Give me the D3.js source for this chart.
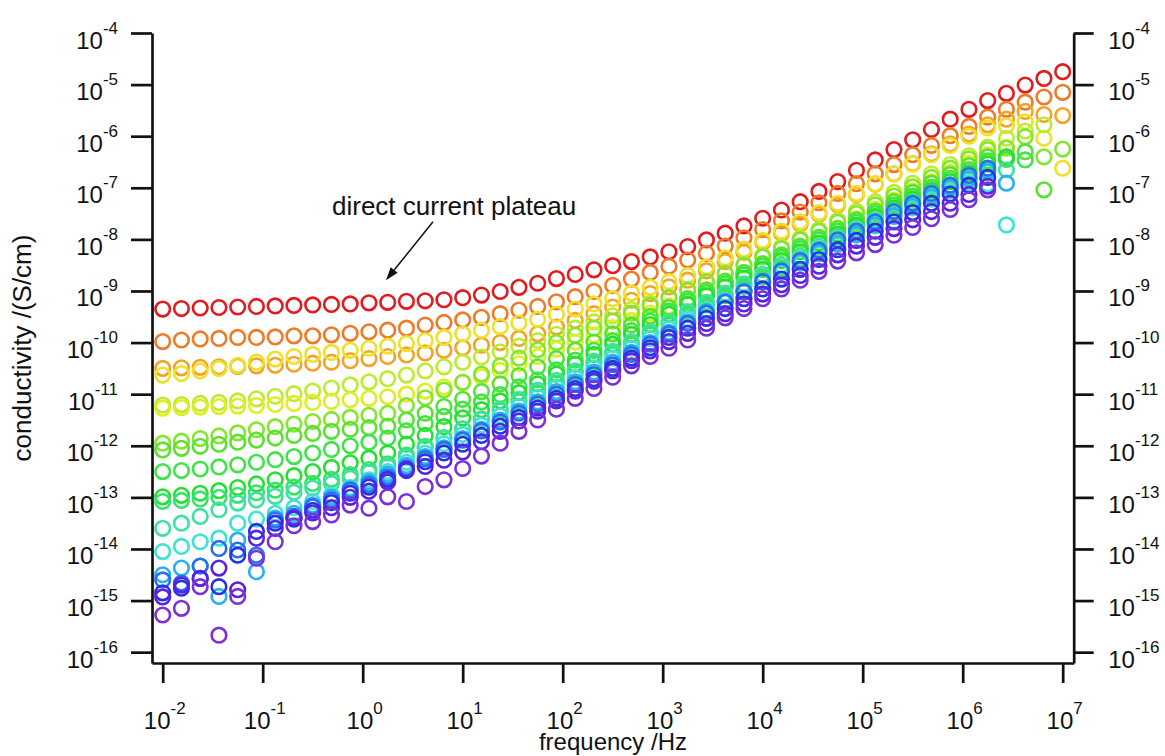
<!DOCTYPE html>
<html>
<head>
<meta charset="utf-8">
<script src="https://cdn.jsdelivr.net/npm/d3@7"></script>
<style>
  html, body { margin: 0; padding: 0; background: #fff; }
  svg { display: block; font-family: "Liberation Sans", Arial, Helvetica, sans-serif; }
</style>
</head>
<body>
<svg id="chart" width="1165" height="756"></svg>
<script>
// Measurement frequencies (Hz), shared by every spectrum
const frequencies = [
  0.01, 0.0154, 0.02371, 0.03652, 0.05623, 0.0866, 0.1334, 0.2054, 0.3162, 0.487,
  0.7499, 1.155, 1.778, 2.738, 4.217, 6.494, 10, 15.4, 23.71, 36.52,
  56.23, 86.6, 133.4, 205.4, 316.2, 487, 749.9, 1155, 1778, 2738,
  4217, 6494, 1.0e4, 1.54e4, 2.371e4, 3.652e4, 5.623e4, 8.66e4, 1.334e5, 2.054e5,
  3.162e5, 4.87e5, 7.499e5, 1.155e6, 1.778e6, 2.738e6, 4.217e6, 6.494e6, 1.0e7
];

// log10 of the real conductivity (S/cm), one spectrum per temperature
const redTrace = [-9.35,-9.34,-9.33,-9.32,-9.31,-9.30,-9.29,-9.28,-9.27,-9.26,-9.25,-9.23,-9.22,
  -9.20,-9.19,-9.17,-9.13,-9.08,-9.01,-8.93,-8.85,-8.76,-8.68,-8.59,-8.51,-8.43,-8.34,-8.24,-8.14,
  -8.01,-7.88,-7.74,-7.59,-7.43,-7.27,-7.07,-6.88,-6.66,-6.46,-6.26,-6.07,-5.87,-5.67,-5.48,-5.31,-5.17,-5.01,-4.88,-4.75];
const orangeTrace = [-9.98,-9.95,-9.93,-9.92,-9.90,-9.90,-9.89,-9.87,-9.87,-9.85,-9.82,-9.79,-9.76,
  -9.72,-9.66,-9.61,-9.56,-9.51,-9.44,-9.37,-9.30,-9.21,-9.11,-9.01,-8.89,-8.77,-8.64,-8.52,-8.40,
  -8.27,-8.13,-7.97,-7.81,-7.64,-7.47,-7.29,-7.11,-6.92,-6.73,-6.55,-6.36,-6.18,-5.99,-5.81,-5.63,-5.48,-5.34,-5.24,-5.15];
const amberTrace = [-10.50,-10.49,-10.48,-10.47,-10.46,-10.45,-10.44,-10.42,-10.40,-10.38,-10.35,-10.31,-10.27,
  -10.24,-10.20,-10.15,-10.10,-10.05,-10.00,-9.92,-9.83,-9.70,-9.57,-9.44,-9.31,-9.18,-9.05,-8.92,-8.79,
  -8.61,-8.43,-8.25,-8.06,-7.88,-7.70,-7.51,-7.33,-7.13,-6.93,-6.73,-6.53,-6.34,-6.15,-5.96,-5.78,-5.67,-5.52,-5.58,-5.60];
const yellowTrace = [-10.63,-10.60,-10.55,-10.50,-10.44,-10.38,-10.32,-10.27,-10.23,-10.19,-10.15,-10.11,-10.07,
  -10.02,-9.96,-9.90,-9.83,-9.76,-9.69,-9.62,-9.55,-9.45,-9.35,-9.25,-9.15,-9.04,-8.93,-8.82,-8.70,
  -8.53,-8.36,-8.19,-8.02,-7.84,-7.66,-7.48,-7.30,-7.11,-6.92,-6.73,-6.54,-6.36,-6.18,-6.00,-5.84,-5.80,-5.72,-6.04,-6.62];
const yellowGreenTrace = [-11.21,-11.20,-11.18,-11.16,-11.13,-11.09,-11.04,-10.99,-10.94,-10.88,-10.82,-10.76,-10.70,
  -10.63,-10.55,-10.47,-10.38,-10.28,-10.18,-10.07,-9.96,-9.84,-9.72,-9.60,-9.48,-9.36,-9.24,-9.12,-9.00,
  -8.83,-8.66,-8.49,-8.32,-8.15,-7.98,-7.81,-7.63,-7.45,-7.27,-7.09,-6.91,-6.73,-6.55,-6.38,-6.21,-6.04,-5.90,-5.78];
const limeTrace = [-11.27,-11.26,-11.25,-11.24,-11.23,-11.22,-11.20,-11.18,-11.16,-11.14,-11.11,-11.08,-11.05,
  -11.00,-10.94,-10.86,-10.77,-10.66,-10.54,-10.41,-10.27,-10.13,-9.99,-9.85,-9.71,-9.57,-9.43,-9.29,-9.15,
  -8.99,-8.82,-8.65,-8.48,-8.31,-8.14,-7.96,-7.78,-7.60,-7.42,-7.24,-7.06,-6.88,-6.70,-6.52,-6.36,-6.22];
const chartreuseTrace = [-11.95,-11.91,-11.86,-11.81,-11.75,-11.69,-11.63,-11.58,-11.53,-11.49,-11.45,-11.41,-11.37,
  -11.22,-11.07,-10.92,-10.77,-10.61,-10.45,-10.30,-10.14,-10.00,-9.86,-9.72,-9.58,-9.43,-9.28,-9.13,-8.98,
  -8.82,-8.66,-8.50,-8.34,-8.18,-8.01,-7.84,-7.67,-7.50,-7.33,-7.16,-6.98,-6.80,-6.62,-6.44,-6.26,-6.23,-6.01,-6.40,-6.25];
const greenTrace = [-12.08,-12.05,-12.01,-11.97,-11.93,-11.89,-11.85,-11.80,-11.76,-11.72,-11.68,-11.65,-11.62,
  -11.50,-11.37,-11.24,-11.10,-10.95,-10.80,-10.64,-10.47,-10.31,-10.15,-9.99,-9.83,-9.66,-9.49,-9.32,-9.15,
  -8.98,-8.81,-8.64,-8.47,-8.30,-8.13,-7.96,-7.79,-7.62,-7.45,-7.27,-7.09,-6.91,-6.74,-6.57,-6.40,-6.40,-6.30,-7.04];
const leafTrace = [-12.50,-12.48,-12.45,-12.41,-12.37,-12.32,-12.27,-12.21,-12.14,-12.07,-12.00,-11.93,-11.85,
  -11.71,-11.57,-11.43,-11.29,-11.15,-11.01,-10.86,-10.72,-10.53,-10.34,-10.15,-9.96,-9.77,-9.58,-9.39,-9.20,
  -9.03,-8.86,-8.69,-8.52,-8.35,-8.18,-8.01,-7.84,-7.67,-7.50,-7.33,-7.16,-6.99,-6.82,-6.65,-6.48,-6.45,-6.46];
const emeraldTrace = [-12.99,-12.96,-12.92,-12.87,-12.81,-12.74,-12.66,-12.58,-12.50,-12.42,-12.33,-12.24,-12.14,
  -11.97,-11.80,-11.63,-11.46,-11.30,-11.13,-10.97,-10.80,-10.61,-10.42,-10.23,-10.03,-9.84,-9.65,-9.45,-9.26,
  -9.09,-8.92,-8.75,-8.58,-8.41,-8.24,-8.07,-7.90,-7.73,-7.56,-7.39,-7.22,-7.05,-6.88,-6.71,-6.54,-6.40];
const springTrace = [-13.08,-13.06,-13.03,-13.00,-12.96,-12.91,-12.86,-12.80,-12.73,-12.65,-12.56,-12.46,-12.35,
  -12.18,-12.01,-11.84,-11.67,-11.49,-11.32,-11.14,-10.97,-10.78,-10.59,-10.40,-10.21,-10.02,-9.83,-9.64,-9.45,
  -9.27,-9.09,-8.91,-8.73,-8.55,-8.37,-8.19,-8.01,-7.84,-7.67,-7.50,-7.33,-7.16,-6.99,-6.82,-6.66];
const seaGreenTrace = [-13.60,-13.50,-13.37,-13.24,-13.11,-13.05,-12.98,-12.90,-12.82,-12.73,-12.63,-12.52,-12.40,
  -12.22,-12.04,-11.86,-11.67,-11.48,-11.29,-11.10,-10.92,-10.73,-10.55,-10.36,-10.17,-9.98,-9.79,-9.60,-9.40,
  -9.22,-9.04,-8.86,-8.68,-8.50,-8.32,-8.14,-7.96,-7.79,-7.62,-7.45,-7.28,-7.11,-6.95,-6.80,-6.70,-6.65];
const turquoiseTrace = [-14.05,-13.95,-13.86,-13.79,-13.50,-13.42,-13.31,-13.20,-13.08,-12.95,-12.81,-12.66,-12.50,
  -12.32,-12.14,-11.96,-11.78,-11.60,-11.42,-11.24,-11.06,-10.87,-10.68,-10.49,-10.30,-10.11,-9.92,-9.73,-9.54,
  -9.36,-9.18,-9.00,-8.82,-8.64,-8.46,-8.28,-8.10,-7.92,-7.74,-7.56,-7.39,-7.22,-7.06,-6.90,-6.92,-7.72];
const azureTrace = [-14.50,-14.37,-14.33,-14.92,-13.83,-14.44,-13.40,-13.31,-13.15,-13.00,-12.84,-12.70,-12.55,
  -12.38,-12.21,-12.04,-11.86,-11.68,-11.50,-11.33,-11.15,-10.95,-10.76,-10.57,-10.38,-10.19,-10.00,-9.80,-9.60,
  -9.40,-9.20,-9.00,-8.81,-8.62,-8.44,-8.26,-8.08,-7.90,-7.72,-7.54,-7.36,-7.18,-7.00,-6.83,-6.68,-6.91];
const blueTrace = [-14.60,-14.66,-14.33,-13.99,-14.02,-14.12,-13.44,-13.37,-13.18,-13.05,-12.86,-12.75,-12.60,
  -12.43,-12.25,-12.07,-11.89,-11.71,-11.54,-11.37,-11.19,-11.00,-10.81,-10.62,-10.43,-10.23,-10.03,-9.83,-9.63,
  -9.43,-9.22,-9.02,-8.82,-8.61,-8.41,-8.21,-8.01,-7.84,-7.66,-7.46,-7.30,-7.11,-6.95,-6.76,-6.62];
const deepBlueTrace = [-14.85,-14.76,-14.57,-14.73,-14.12,-13.66,-13.50,-13.42,-13.25,-13.10,-12.92,-12.80,-12.65,
  -12.48,-12.31,-12.14,-11.97,-11.80,-11.62,-11.45,-11.27,-11.08,-10.89,-10.70,-10.50,-10.30,-10.10,-9.90,-9.72,
  -9.53,-9.34,-9.15,-8.96,-8.77,-8.58,-8.39,-8.20,-8.02,-7.84,-7.66,-7.48,-7.30,-7.12,-6.95,-6.80];
const indigoTrace = [-14.93,-14.70,-14.57,-14.37,-14.79,-13.79,-13.60,-13.40,-13.30,-13.20,-13.00,-12.88,-12.70,
  -12.45,-12.40,-12.28,-12.12,-11.92,-11.72,-11.52,-11.33,-11.13,-10.94,-10.75,-10.55,-10.35,-10.16,-9.98,-9.82,
  -9.63,-9.44,-9.25,-9.06,-8.88,-8.70,-8.52,-8.30,-8.13,-7.96,-7.79,-7.62,-7.46,-7.30,-7.13,-6.97];
const violetTrace = [-15.28,-15.15,-14.73,-15.67,-14.92,-14.18,-13.86,-13.55,-13.47,-13.34,-13.15,-13.21,-12.99,
  -13.08,-12.79,-12.66,-12.44,-12.20,-11.95,-11.72,-11.50,-11.29,-11.08,-10.89,-10.67,-10.45,-10.27,-10.11,-9.95,
  -9.72,-9.52,-9.34,-9.15,-8.96,-8.79,-8.62,-8.42,-8.26,-8.10,-7.92,-7.77,-7.60,-7.42,-7.23,-7.04];

const traces = [redTrace, orangeTrace, amberTrace, yellowTrace, yellowGreenTrace, limeTrace,
  chartreuseTrace, greenTrace, leafTrace, emeraldTrace, springTrace, seaGreenTrace,
  turquoiseTrace, azureTrace, blueTrace, deepBlueTrace, indigoTrace, violetTrace];
const traceColors = ["#e31b1f", "#f07a26", "#f4a326", "#ede12a", "#bdec2e", "#dcef22",
  "#84e62e", "#58e232", "#3ee448", "#22e22e", "#34e46c", "#40e0a4",
  "#3ee2d6", "#27b0f2", "#2b6ef0", "#2234e6", "#5a22e0", "#7c30d8"];

const xTickValues = [1e-2, 1e-1, 1e0, 1e1, 1e2, 1e3, 1e4, 1e5, 1e6, 1e7];
const yTickValues = [1e-16, 1e-15, 1e-14, 1e-13, 1e-12, 1e-11, 1e-10, 1e-9, 1e-8, 1e-7, 1e-6, 1e-5, 1e-4];

const xTitle = "frequency /Hz";
const yTitle = "conductivity /(S/cm)";
const noteText = "direct current plateau";

const svg = d3.select("#chart");

// log-log frame: left axis at x=152, right at 1073.7, bottom at y=663
const x = d3.scaleLog().domain([10 ** -2.107, 10 ** 7.11]).range([152, 1073.7]);
const y = d3.scaleLog().domain([10 ** -16.21, 1e-4]).range([663, 33]);

// open circle markers, drawn from the hottest (red) to the coldest (violet) spectrum
const plot = svg.append("g");
traces.forEach((vals, k) => {
  plot.append("g")
    .attr("fill", "none")
    .attr("stroke", traceColors[k])
    .attr("stroke-width", 2.6)
    .selectAll("circle")
    .data(vals.map((v, i) => ({ f: frequencies[i], s: 10 ** v })))
    .join("circle")
    .attr("cx", d => x(d.f))
    .attr("cy", d => y(d.s))
    .attr("r", 7.3);
});

// axes
function styleAxis(g) {
  g.attr("font-family", null).attr("font-size", null);
  g.select(".domain").attr("stroke", "#111").attr("stroke-width", 2.7);
  g.selectAll(".tick line").attr("stroke", "#111").attr("stroke-width", 2.7);
}
function decadeLabels(g, dx, dy, anchor) {
  g.selectAll(".tick text").each(function (d) {
    const t = d3.select(this);
    t.text(null)
      .attr("x", dx).attr("y", dy).attr("dy", null)
      .attr("text-anchor", anchor)
      .attr("font-size", 24)
      .attr("fill", "#111");
    t.append("tspan").text("10");
    t.append("tspan").attr("dy", -15).attr("font-size", 17).text(Math.round(Math.log10(d)));
  });
}

const gLeft = svg.append("g").attr("transform", "translate(152,0)")
  .call(d3.axisLeft(y).tickValues(yTickValues).tickSize(21).tickSizeOuter(0));
styleAxis(gLeft); decadeLabels(gLeft, -34, 15, "end");

const gRight = svg.append("g").attr("transform", "translate(1073.7,0)")
  .call(d3.axisRight(y).tickValues(yTickValues).tickSize(20).tickSizeOuter(0));
styleAxis(gRight); decadeLabels(gRight, 34.5, 15, "start");

const gBottom = svg.append("g").attr("transform", "translate(0,663)")
  .call(d3.axisBottom(x).tickValues(xTickValues).tickSize(20).tickSizeOuter(0));
styleAxis(gBottom); decadeLabels(gBottom, 1.5, 66, "middle");

// axis titles, centred on their axes
svg.append("text")
  .attr("x", 613).attr("y", 750)
  .attr("text-anchor", "middle").attr("font-size", 24).attr("fill", "#111")
  .text(xTitle);
svg.append("text")
  .attr("transform", "translate(31,348) rotate(-90)")
  .attr("text-anchor", "middle").attr("font-size", 26).attr("fill", "#111")
  .text(yTitle);

// annotation pointing at the low-frequency plateau of the red spectrum
svg.append("text")
  .attr("x", x(10 ** -0.307)).attr("y", y(10 ** -7.53))
  .attr("font-size", 26).attr("fill", "#111")
  .text(noteText);

const tail = [x(10 ** 0.703), y(10 ** -7.66)];
const tip = [x(10 ** 0.233), y(10 ** -8.79)];
const ang = Math.atan2(tip[1] - tail[1], tip[0] - tail[0]);
const headLen = 13, headHalf = 4.5;
const base = [tip[0] - headLen * Math.cos(ang), tip[1] - headLen * Math.sin(ang)];
svg.append("line")
  .attr("x1", tail[0]).attr("y1", tail[1])
  .attr("x2", base[0]).attr("y2", base[1])
  .attr("stroke", "#111").attr("stroke-width", 1.5);
svg.append("path")
  .attr("d", d3.line()([
    tip,
    [base[0] + headHalf * Math.sin(ang), base[1] - headHalf * Math.cos(ang)],
    [base[0] - headHalf * Math.sin(ang), base[1] + headHalf * Math.cos(ang)]
  ]) + "Z")
  .attr("fill", "#111");
</script>
</body>
</html>
